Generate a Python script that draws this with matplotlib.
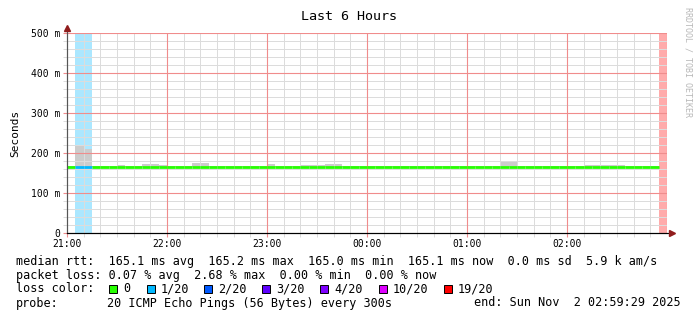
import numpy as np
import matplotlib
matplotlib.use('Agg')
import matplotlib.pyplot as plt
from matplotlib.patches import Rectangle

# 5 minute steps from 21:00 (hours, 24 = 00:00)
step_start = 21.0
step_hours = 5 / 60
n_steps = 72

median_rtt = [
    0.1651, 0.1651, 0.1651, 0.1651, 0.1651, 0.1651, 0.1651, 0.1651, 0.1651, 0.1651, 0.1651, 0.1651,
    0.1651, 0.1651, 0.1651, 0.1651, 0.1651, 0.1651, 0.1651, 0.1651, 0.1651, 0.1651, 0.1651, 0.1651,
    0.1651, 0.1651, 0.1651, 0.1651, 0.1651, 0.1651, 0.1651, 0.1651, 0.1651, 0.1651, 0.1651, 0.1651,
    0.1651, 0.1651, 0.1651, 0.1651, 0.1651, 0.1651, 0.1651, 0.1651, 0.1651, 0.1651, 0.1651, 0.1651,
    0.1651, 0.1651, 0.1651, 0.1651, 0.1651, 0.1651, 0.1651, 0.1651, 0.1651, 0.1651, 0.1651, 0.1651,
    0.1651, 0.1651, 0.1651, 0.1651, 0.1651, 0.1651, 0.1651, 0.1651, 0.1651, 0.1651, 0.1651, np.nan,
]

smoke_high = [
    0.167, 0.218, 0.210, 0.167, 0.167, 0.167, 0.170, 0.167, 0.167, 0.172, 0.173, 0.170,
    0.167, 0.167, 0.167, 0.176, 0.176, 0.167, 0.167, 0.167, 0.167, 0.167, 0.167, 0.167,
    0.172, 0.167, 0.167, 0.167, 0.170, 0.170, 0.170, 0.172, 0.172, 0.167, 0.167, 0.167,
    0.167, 0.167, 0.167, 0.167, 0.167, 0.167, 0.167, 0.167, 0.167, 0.167, 0.167, 0.167,
    0.167, 0.167, 0.167, 0.167, 0.181, 0.181, 0.167, 0.167, 0.167, 0.167, 0.167, 0.167,
    0.167, 0.167, 0.169, 0.169, 0.169, 0.169, 0.169, 0.167, 0.167, 0.167, 0.167, np.nan,
]

smoke_low = [
    0.164, 0.164, 0.164, 0.164, 0.164, 0.164, 0.164, 0.164, 0.164, 0.164, 0.164, 0.164,
    0.164, 0.164, 0.164, 0.164, 0.164, 0.164, 0.164, 0.164, 0.164, 0.164, 0.164, 0.164,
    0.164, 0.164, 0.164, 0.164, 0.164, 0.164, 0.164, 0.164, 0.164, 0.164, 0.164, 0.164,
    0.164, 0.164, 0.164, 0.164, 0.164, 0.164, 0.164, 0.164, 0.164, 0.164, 0.164, 0.164,
    0.164, 0.164, 0.164, 0.164, 0.164, 0.164, 0.164, 0.164, 0.164, 0.164, 0.164, 0.164,
    0.164, 0.164, 0.164, 0.164, 0.164, 0.164, 0.164, 0.164, 0.164, 0.164, 0.164, np.nan,
]

# lost pings out of 20
loss = [
    0, 1, 1, 0, 0, 0, 0, 0, 0, 0, 0, 0,
    0, 0, 0, 0, 0, 0, 0, 0, 0, 0, 0, 0,
    0, 0, 0, 0, 0, 0, 0, 0, 0, 0, 0, 0,
    0, 0, 0, 0, 0, 0, 0, 0, 0, 0, 0, 0,
    0, 0, 0, 0, 0, 0, 0, 0, 0, 0, 0, 0,
    0, 0, 0, 0, 0, 0, 0, 0, 0, 0, 0, 19,
]

loss_levels = [0, 1, 2, 3, 4, 10, 19]
loss_labels = ['0', '1/20', '2/20', '3/20', '4/20', '10/20', '19/20']
loss_colors = ['#26ff00', '#00b8ff', '#0059ff', '#5e00ff', '#7e00ff', '#dd00ff', '#ff0000']

hour_ticks = [21, 22, 23, 24, 25, 26]
hour_labels = ['21:00', '22:00', '23:00', '00:00', '01:00', '02:00']
y_ticks = [0, 0.1, 0.2, 0.3, 0.4, 0.5]
y_labels = ['0', '100 m', '200 m', '300 m', '400 m', '500 m']

legend_lines = [
    'median rtt:  165.1 ms avg  165.2 ms max  165.0 ms min  165.1 ms now  0.0 ms sd  5.9 k am/s',
    'packet loss: 0.07 % avg  2.68 % max  0.00 % min  0.00 % now',
]
probe_text = '20 ICMP Echo Pings (56 Bytes) every 300s'
end_text = 'end: Sun Nov  2 02:59:29 2025'

MAJOR_GRID = '#f08c8c'
MINOR_GRID = '#dcdcdc'


def loss_color(n):
    color = loss_colors[0]
    for lvl, c in zip(loss_levels, loss_colors):
        if n >= lvl:
            color = c
    return color


W, H = 697, 321
MONO = 'DejaVu Sans Mono'
fig = plt.figure(figsize=(W / 100, H / 100), dpi=100)
ax = fig.add_axes([67 / W, 88 / H, 600 / W, 200 / H])

edges = step_start + np.arange(n_steps + 1) * step_hours

# loss background
for i, n in enumerate(loss):
    if n > 0:
        ax.axvspan(edges[i], edges[i + 1], color=loss_color(n), alpha=0.33, lw=0, zorder=1)

# smoke
ax.stairs(smoke_high, edges, baseline=smoke_low, fill=True, color='#cccccc', zorder=1.2)

# median, coloured by loss
med = np.array(median_rtt)
ok = ~np.isnan(med)
ax.hlines(med[ok], edges[:-1][ok], edges[1:][ok],
          colors=[loss_color(n) for n, k in zip(loss, ok) if k], lw=2.0, zorder=3)

ax.set_xlim(21, 27)
ax.set_ylim(0, 0.5)
ax.set_xticks(hour_ticks)
ax.set_xticklabels(hour_labels)
x_minor = [21 + k / 6 for k in range(37) if k % 6 != 0]
ax.set_xticks(x_minor, minor=True)
ax.set_yticks(y_ticks)
ax.set_yticklabels(y_labels)
y_minor = [k * 0.02 for k in range(26) if k % 5 != 0]
ax.set_yticks(y_minor, minor=True)

ax.tick_params(which='major', length=3, width=0.8, color=MAJOR_GRID, pad=2,
               labelsize=7, labelfontfamily=MONO)
ax.tick_params(which='minor', length=3, width=0.72, color=MINOR_GRID)
ax.tick_params(axis='x', pad=1.5)
ax.grid(which='minor', color=MINOR_GRID, lw=0.72)

# major grid drawn by hand so the red tint is kept
for h in hour_ticks[1:] + [27]:
    ax.axvline(h, color=MAJOR_GRID, lw=0.8, zorder=1.6)
for v in y_ticks[1:]:
    ax.axhline(v, color=MAJOR_GRID, lw=0.8, zorder=1.6)

for s in ['top', 'right']:
    ax.spines[s].set_visible(False)
ax.spines['left'].set_color('#555555')
ax.spines['bottom'].set_color('#000000')
ax.plot([21, 21], [0, 0.508], color='#555555', lw=0.8, clip_on=False, zorder=4)
ax.plot([21, 27.04], [0, 0], color='#000000', lw=0.8, clip_on=False, zorder=4)
ax.plot([21], [0.512], marker='^', ms=4, color='#901c1c', clip_on=False, zorder=5)
ax.plot([27.05], [0], marker='>', ms=4, color='#901c1c', clip_on=False, zorder=5)


def ftext(x, y, s, **kw):
    kw.setdefault('family', MONO)
    kw.setdefault('fontsize', 8.5)
    kw.setdefault('va', 'center')
    fig.text(x / W, 1 - y / H, s, **kw)


ftext(349, 16, 'Last 6 Hours', fontsize=9.6, ha='center')
ftext(15, 133, 'Seconds', fontsize=8, ha='center', rotation=90)
ftext(688, 62, 'RRDTOOL / TOBI OETIKER', fontsize=6, ha='center', rotation=270, color='#b8b8b8')

ftext(16, 261, legend_lines[0])
ftext(16, 275, legend_lines[1])
ftext(16, 289, 'loss color:')
box_x = [109, 147, 204, 262, 320, 379, 444]
for bx, lab, c in zip(box_x, loss_labels, loss_colors):
    fig.patches.append(Rectangle((bx / W, 1 - 293 / H), 8 / W, 8 / H, transform=fig.transFigure,
                                 facecolor=c, edgecolor='#000000', lw=0.7))
    ftext(bx + 14, 289, lab)
ftext(16, 303, 'probe:')
ftext(107, 303, probe_text)
ftext(681, 303, end_text, ha='right')

fig.savefig('out.png', dpi=100)
